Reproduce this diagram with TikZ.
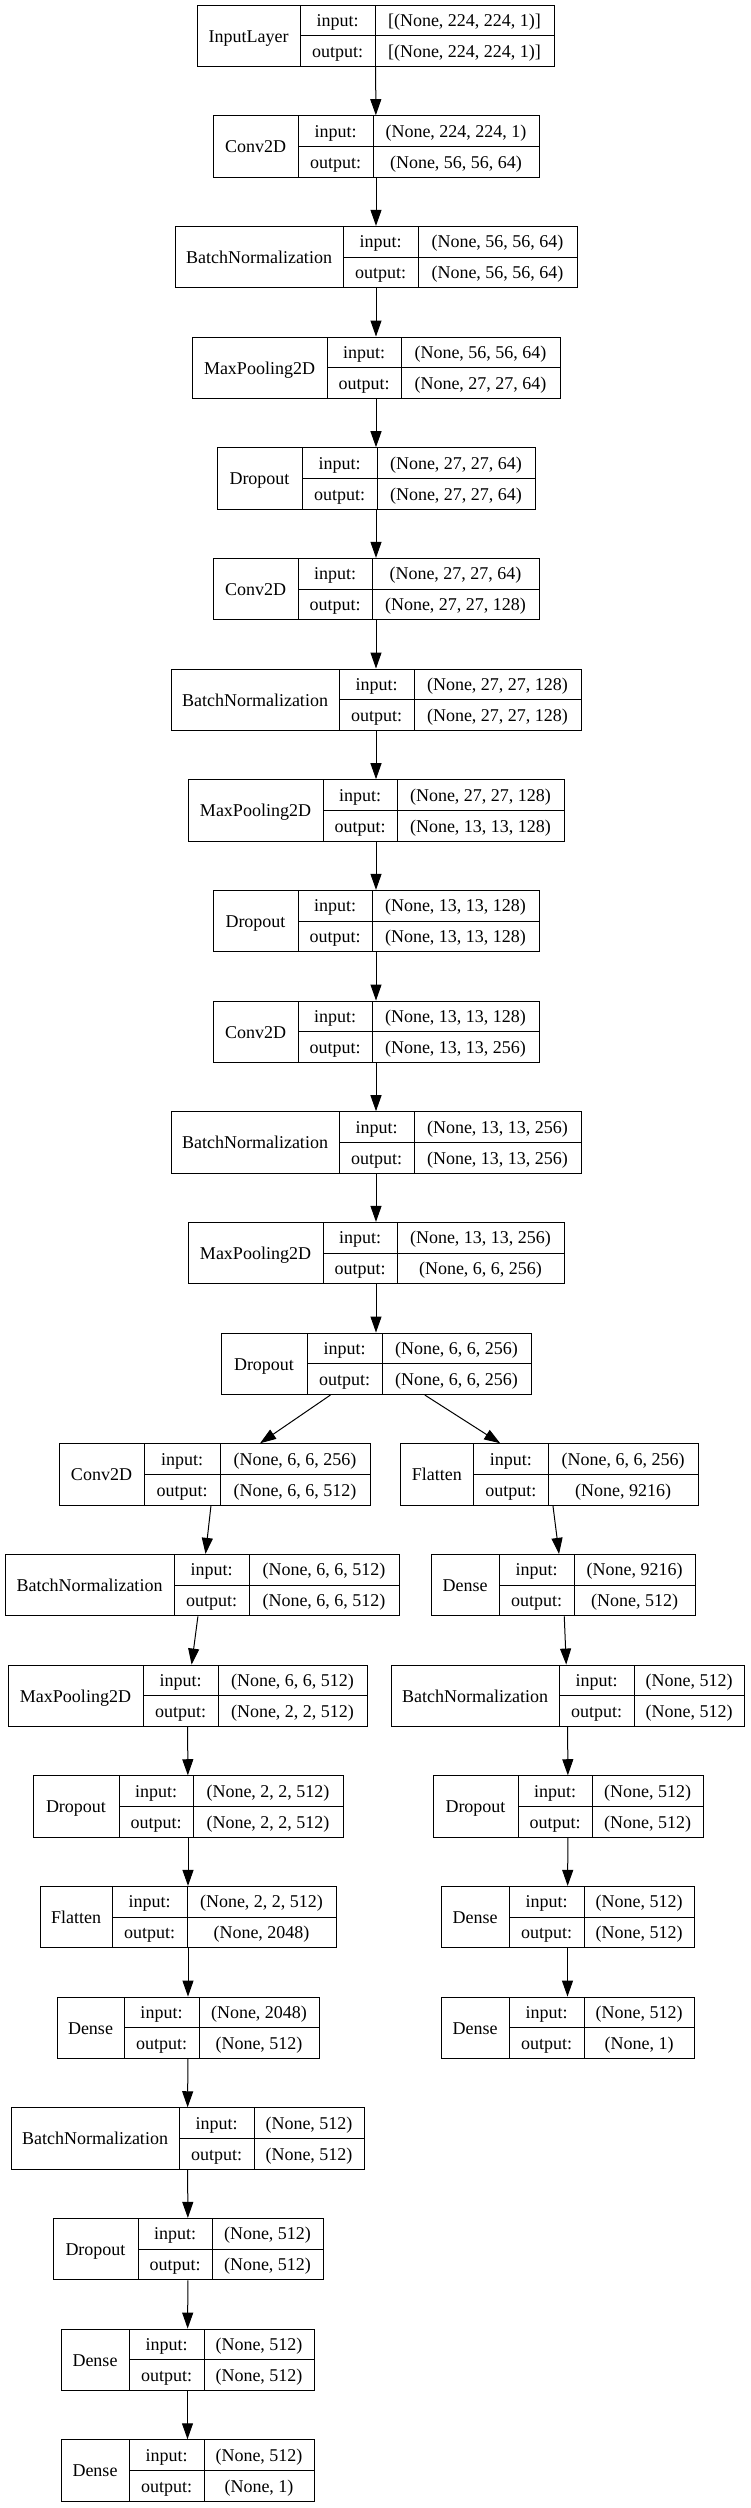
\documentclass[tikz,border=0pt]{standalone}
\usepackage{fontspec}
\setmainfont{Liberation Serif}
\usetikzlibrary{arrows.meta}
\tikzset{
  box/.style={draw=black, line width=1pt, fill=white, rectangle, inner sep=0pt},
  div/.style={draw=black, line width=1pt},
  txt/.style={anchor=base, inner sep=0pt, font=\fontsize{18}{20}\selectfont},
  edge/.style={draw=black, line width=1pt, -{Triangle[length=16pt,width=11pt]}}
}
% #1 id, #2 row, #3 left, #4 d1, #5 d2, #6 right, #7 name, #8 input, #9 output
\newcommand\nnbox[9]{%
  \pgfmathsetmacro\nntop{5+110.67*#2}%
  \pgfmathsetmacro\nnbot{\nntop+61.5}%
  \pgfmathsetmacro\nnmid{\nntop+30.75}%
  \node[box, minimum width={(#6-#3)*1pt}, minimum height=61.5pt] (#1) at ({(#3+#6)/2},-\nnmid) {};
  \draw[div] (#4,-\nntop) -- (#4,-\nnbot);
  \draw[div] (#5,-\nntop) -- (#5,-\nnbot);
  \draw[div] (#4,-\nnmid) -- (#6,-\nnmid);
  \node[txt] (#1-n) at ({(#3+#4)/2},{-(\nntop+37)}) {#7};
  \node[txt] (#1-il) at ({(#4+#5)/2},{-(\nntop+21.5)}) {input:};
  \node[txt] (#1-ol) at ({(#4+#5)/2},{-(\nntop+52.5)}) {output:};
  \node[txt] (#1-iv) at ({(#5+#6)/2},{-(\nntop+21.5)}) {#8};
  \node[txt] (#1-ov) at ({(#5+#6)/2},{-(\nntop+52.5)}) {#9};
}
\begin{document}
\begin{tikzpicture}[x=1pt,y=1pt]
\fill[white] (0,0) rectangle (750,-2508);
\useasboundingbox (0,0) rectangle (750,-2508);
% main column
\nnbox{m0}{0}{197}{300}{375}{554}{InputLayer}{[(None, 224, 224, 1)]}{[(None, 224, 224, 1)]}
\nnbox{m1}{1}{213}{298}{373}{539}{Conv2D}{(None, 224, 224, 1)}{(None, 56, 56, 64)}
\nnbox{m2}{2}{175}{343}{418}{577}{BatchNormalization}{(None, 56, 56, 64)}{(None, 56, 56, 64)}
\nnbox{m3}{3}{192}{327}{401}{560}{MaxPooling2D}{(None, 56, 56, 64)}{(None, 27, 27, 64)}
\nnbox{m4}{4}{217}{302}{377}{535}{Dropout}{(None, 27, 27, 64)}{(None, 27, 27, 64)}
\nnbox{m5}{5}{213}{298}{372}{539}{Conv2D}{(None, 27, 27, 64)}{(None, 27, 27, 128)}
\nnbox{m6}{6}{171}{339}{414}{581}{BatchNormalization}{(None, 27, 27, 128)}{(None, 27, 27, 128)}
\nnbox{m7}{7}{188}{323}{397}{564}{MaxPooling2D}{(None, 27, 27, 128)}{(None, 13, 13, 128)}
\nnbox{m8}{8}{213}{298}{372}{539}{Dropout}{(None, 13, 13, 128)}{(None, 13, 13, 128)}
\nnbox{m9}{9}{213}{298}{372}{539}{Conv2D}{(None, 13, 13, 128)}{(None, 13, 13, 256)}
\nnbox{m10}{10}{171}{339}{414}{581}{BatchNormalization}{(None, 13, 13, 256)}{(None, 13, 13, 256)}
\nnbox{m11}{11}{188}{323}{397}{564}{MaxPooling2D}{(None, 13, 13, 256)}{(None, 6, 6, 256)}
\nnbox{m12}{12}{221}{307}{382}{531}{Dropout}{(None, 6, 6, 256)}{(None, 6, 6, 256)}
% left branch
\nnbox{a13}{13}{59}{144}{220}{370}{Conv2D}{(None, 6, 6, 256)}{(None, 6, 6, 512)}
\nnbox{a14}{14}{5}{174}{249}{399}{BatchNormalization}{(None, 6, 6, 512)}{(None, 6, 6, 512)}
\nnbox{a15}{15}{8}{143}{218}{367}{MaxPooling2D}{(None, 6, 6, 512)}{(None, 2, 2, 512)}
\nnbox{a16}{16}{33}{119}{193}{343}{Dropout}{(None, 2, 2, 512)}{(None, 2, 2, 512)}
\nnbox{a17}{17}{40}{112}{187}{336}{Flatten}{(None, 2, 2, 512)}{(None, 2048)}
\nnbox{a18}{18}{57}{124}{199}{319}{Dense}{(None, 2048)}{(None, 512)}
\nnbox{a19}{19}{11}{179}{254}{364}{BatchNormalization}{(None, 512)}{(None, 512)}
\nnbox{a20}{20}{53}{138}{212}{323}{Dropout}{(None, 512)}{(None, 512)}
\nnbox{a21}{21}{61}{129}{204}{314}{Dense}{(None, 512)}{(None, 512)}
\nnbox{a22}{22}{61}{129}{204}{314}{Dense}{(None, 512)}{(None, 1)}
% right branch
\nnbox{b13}{13}{400}{473.5}{548}{698}{Flatten}{(None, 6, 6, 256)}{(None, 9216)}
\nnbox{b14}{14}{431}{499}{574}{695}{Dense}{(None, 9216)}{(None, 512)}
\nnbox{b15}{15}{391}{559}{634}{744}{BatchNormalization}{(None, 512)}{(None, 512)}
\nnbox{b16}{16}{433}{518}{592}{703}{Dropout}{(None, 512)}{(None, 512)}
\nnbox{b17}{17}{441}{509}{584}{694}{Dense}{(None, 512)}{(None, 512)}
\nnbox{b18}{18}{441}{509}{584}{694}{Dense}{(None, 512)}{(None, 1)}
% edges
\foreach \a/\b in {m0/m1,m1/m2,m2/m3,m3/m4,m4/m5,m5/m6,m6/m7,m7/m8,m8/m9,m9/m10,m10/m11,m11/m12,
  m12/a13,m12/b13,a13/a14,a14/a15,a15/a16,a16/a17,a17/a18,a18/a19,a19/a20,a20/a21,a21/a22,
  b13/b14,b14/b15,b15/b16,b16/b17,b17/b18}
  \draw[edge] (\a) -- (\b);
\end{tikzpicture}
\end{document}
